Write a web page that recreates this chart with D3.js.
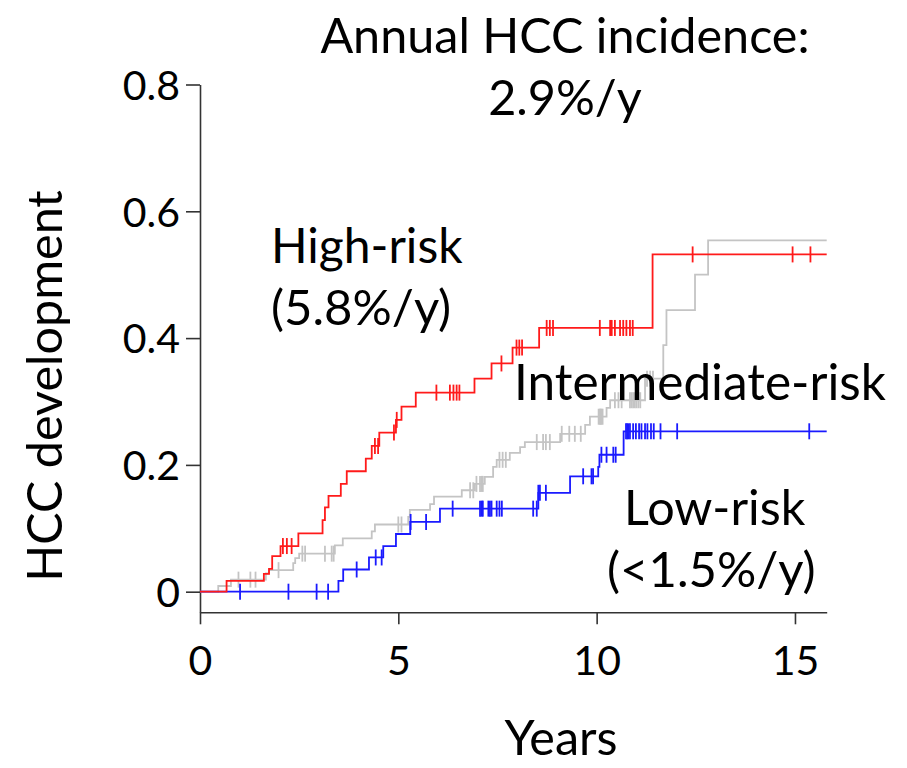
<!DOCTYPE html>
<html>
<head>
<meta charset="utf-8">
<script src="https://cdn.jsdelivr.net/npm/d3@7"></script>
<style>
  body { margin: 0; background: #fff; }
  text { font-family: Lato, "Open Sans", sans-serif; fill: #000; }
</style>
</head>
<body>
<div id="container"></div>
<script>
const w = 907;
const h = 768;

// step times (years) and cumulative incidence after each step
const highTimes = [0.67, 1.61, 1.74, 1.82, 2.03, 2.48, 3.09, 3.15, 3.24, 3.55, 3.70, 4.18, 4.33, 4.52, 4.94, 5.08, 5.44, 6.92, 7.35, 7.88, 8.55, 11.41];
const highValues = [0.017, 0.028, 0.036, 0.056, 0.072, 0.092, 0.113, 0.133, 0.151, 0.170, 0.190, 0.210, 0.230, 0.251, 0.271, 0.292, 0.314, 0.336, 0.360, 0.385, 0.416, 0.532];
const highCensor = [2.09, 2.19, 2.31, 4.41, 4.49, 4.89, 4.96, 5.96, 6.30, 6.39, 6.47, 6.54, 7.60, 7.98, 8.05, 8.12, 8.74, 8.82, 8.90, 10.08, 10.34, 10.38, 10.46, 10.59, 10.67, 10.75, 10.84, 10.91, 12.42, 14.94, 15.39];

const midTimes = [0.46, 0.78, 1.66, 1.74, 2.35, 2.40, 2.50, 3.40, 3.60, 4.33, 4.41, 5.25, 5.29, 5.80, 5.90, 6.60, 6.93, 7.18, 7.39, 7.48, 7.81, 8.07, 8.19, 9.08, 9.71, 9.83, 10.25, 10.34, 11.22, 11.68, 11.76, 12.48, 12.81];
const midValues = [0.009, 0.019, 0.029, 0.034, 0.045, 0.053, 0.060, 0.073, 0.084, 0.095, 0.106, 0.118, 0.129, 0.138, 0.150, 0.160, 0.170, 0.181, 0.197, 0.208, 0.219, 0.228, 0.236, 0.249, 0.263, 0.276, 0.290, 0.302, 0.336, 0.389, 0.444, 0.500, 0.554];
const midCensor = [0.97, 1.27, 1.40, 1.98, 2.58, 2.65, 3.15, 3.32, 3.37, 5.00, 5.08, 6.81, 6.89, 6.97, 7.06, 7.10, 7.13, 7.55, 7.63, 7.71, 8.49, 8.65, 8.72, 8.82, 9.12, 9.31, 9.45, 9.60, 10.05, 10.08, 10.10, 10.12, 10.15, 10.46, 10.55, 10.63, 10.84, 10.88, 10.92, 10.96, 11.00, 11.05, 11.10, 11.27, 11.35, 11.42];

const lowTimes = [3.49, 3.61, 4.26, 4.62, 4.94, 5.30, 6.05, 8.53, 9.33, 10.04, 10.07, 10.68];
const lowValues = [0.017, 0.035, 0.054, 0.072, 0.091, 0.110, 0.131, 0.156, 0.182, 0.197, 0.216, 0.253];
const lowCensor = [1.01, 2.23, 2.94, 3.23, 3.95, 4.43, 4.58, 5.31, 5.70, 6.37, 7.06, 7.10, 7.13, 7.27, 7.31, 7.35, 7.48, 7.55, 7.61, 8.40, 8.49, 8.53, 8.57, 8.72, 9.66, 9.87, 9.91, 10.12, 10.25, 10.42, 10.48, 10.74, 10.77, 10.80, 10.84, 10.92, 10.99, 11.07, 11.13, 11.22, 11.28, 11.37, 11.44, 11.61, 12.03, 15.36];

const xTicks = [0, 5, 10, 15];
const yTicks = [0, 0.2, 0.4, 0.6, 0.8];
const maxYears = 15.8;

const xScale = d3.scaleLinear().domain([0, maxYears]).range([200, 826.7]);
const yScale = d3.scaleLinear().domain([-0.0325, 0.8]).range([612.3, 84.5]);

const svg = d3
  .select("#container")
  .append("svg")
  .attr("width", w)
  .attr("height", h);

// axes
const yAxis = svg
  .append("g")
  .attr("transform", `translate(${xScale(0)}, 0)`)
  .call(
    d3.axisLeft(yScale)
      .tickValues(yTicks)
      .tickSize(14)
      .tickSizeOuter(0)
      .tickPadding(6)
      .tickFormat((d) => (d === 0 ? "0" : d3.format(".1f")(d)))
  );

const xAxis = svg
  .append("g")
  .attr("transform", `translate(0, ${yScale.range()[0]})`)
  .call(
    d3.axisBottom(xScale)
      .tickValues(xTicks)
      .tickSize(12)
      .tickSizeOuter(0)
      .tickPadding(22)
  );

[yAxis, xAxis].forEach((g) => {
  g.selectAll("path, line").attr("stroke", "#333").attr("stroke-width", 1.6);
  g.selectAll("text")
    .style("font-family", "Lato, sans-serif")
    .style("font-size", "41px")
    .attr("fill", "#000");
});
yAxis.selectAll("text").attr("dy", "0.36em");

// curves
const series = [
  { times: midTimes, values: midValues, censor: midCensor, color: "#c4c4c4" },
  { times: lowTimes, values: lowValues, censor: lowCensor, color: "#1a1aff" },
  { times: highTimes, values: highValues, censor: highCensor, color: "#ff1a1a" },
];

const line = d3
  .line()
  .x((d) => xScale(d[0]))
  .y((d) => yScale(d[1]))
  .curve(d3.curveStepAfter);

series.forEach((s) => {
  const pts = [[0, 0]];
  s.times.forEach((t, i) => pts.push([t, s.values[i]]));
  pts.push([maxYears, s.values[s.values.length - 1]]);

  svg
    .append("path")
    .attr("d", line(pts))
    .attr("fill", "none")
    .attr("stroke", s.color)
    .attr("stroke-width", 1.8);

  const valueAt = (t) => {
    let v = 0;
    s.times.forEach((tt, i) => {
      if (tt <= t) v = s.values[i];
    });
    return v;
  };

  svg
    .append("g")
    .selectAll("line")
    .data(s.censor)
    .enter()
    .append("line")
    .attr("x1", (d) => xScale(d))
    .attr("x2", (d) => xScale(d))
    .attr("y1", (d) => yScale(valueAt(d)) - 8)
    .attr("y2", (d) => yScale(valueAt(d)) + 8)
    .attr("stroke", s.color)
    .attr("stroke-width", 1.8);
});

// labels
const addText = (txt, x, y, anchor, size) =>
  svg
    .append("text")
    .attr("x", x)
    .attr("y", y)
    .attr("text-anchor", anchor)
    .style("font-size", size + "px")
    .text(txt);

addText("Annual HCC incidence:", 565, 53, "middle", 48.5);
addText("2.9%/y", 565, 115, "middle", 48.5);
addText("High-risk", 271, 263, "start", 48);
addText("(5.8%/y)", 271, 325, "start", 49);
addText("Intermediate-risk", 514, 400, "start", 49.5);
addText("Low-risk", 624, 525, "start", 48.5);
addText("(<1.5%/y)", 607, 587, "start", 49);
addText("Years", 561, 755, "middle", 48.5);

svg
  .append("text")
  .attr("transform", `translate(62, 386) rotate(-90)`)
  .attr("text-anchor", "middle")
  .style("font-size", "48.5px")
  .text("HCC development");
</script>
</body>
</html>
